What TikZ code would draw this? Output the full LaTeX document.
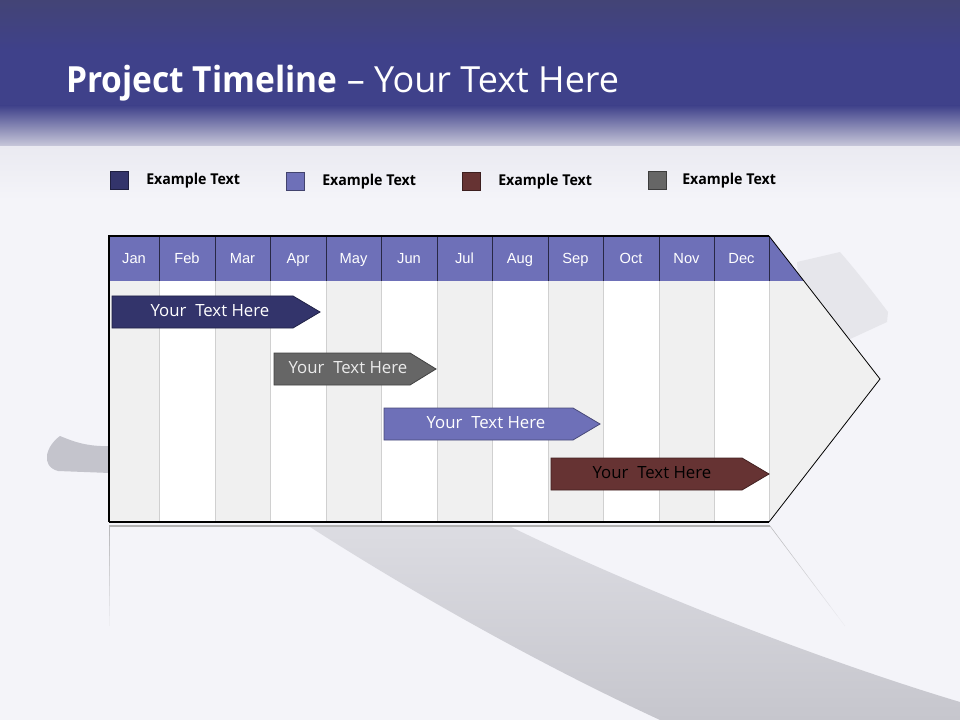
\documentclass[tikz,border=0pt]{standalone}
\usepackage{fontspec}
\setmainfont{Open Sans}
\newfontfamily\titlefont{Open Sans}[FakeStretch=0.93]
\newfontfamily\legfont{Open Sans}[FakeStretch=0.95]
\newfontfamily\arialf{Liberation Sans}
\definecolor{banner}{RGB}{63,65,138}
\definecolor{bannertop}{RGB}{67,68,118}
\definecolor{bannerfade}{RGB}{200,200,218}
\definecolor{bg}{RGB}{244,244,249}
\definecolor{bgtop}{RGB}{234,234,241}
\definecolor{navy}{RGB}{51,52,107}
\definecolor{lav}{RGB}{110,112,184}
\definecolor{maroon}{RGB}{102,51,51}
\definecolor{dgray}{RGB}{102,102,102}
\definecolor{colgray}{RGB}{240,240,240}
\definecolor{sepc}{RGB}{208,208,208}
\definecolor{hsep}{RGB}{40,40,70}
\definecolor{swlight}{RGB}{220,220,226}
\definecolor{swdark}{RGB}{198,198,205}
\definecolor{blobc}{RGB}{196,196,204}
\definecolor{patchc}{RGB}{230,230,235}
\begin{document}
\begin{tikzpicture}[x=0.75pt,y=-0.75pt,
  legsq/.style={draw=#1!60!black, fill=#1, minimum size=13.5pt, inner sep=0pt, line width=0.5pt},
  legtxt/.style={anchor=west, inner sep=0pt, font=\legfont\bfseries\fontsize{11.2}{12}\selectfont, text=black},
  month/.style={inner sep=0pt, text=white, text height=1.45ex, text depth=0.3ex, font=\arialf\fontsize{11}{13}\selectfont},
  bartxt/.style={inner sep=0pt, text height=1.45ex, text depth=0.3ex, font=\fontsize{12.6}{14}\selectfont},
  outline/.style={draw=black, line width=0.8pt}]
\useasboundingbox (0,0) rectangle (960,720);
% background
\fill[bg] (0,0) rectangle (960,720);
\shade[top color=bgtop, bottom color=bg] (0,146) rectangle (960,200);
% banner
\shade[top color=bannertop, bottom color=banner] (0,0) rectangle (960,50);
\fill[banner] (0,50) rectangle (960,106);
\shade[top color=banner, bottom color=bannerfade] (0,105.5) rectangle (960,146);
% title
\node[anchor=base west, inner sep=0pt, text=white, font=\fontsize{27}{30}\selectfont] (title) at (66,93)
  {{\titlefont\bfseries Project Timeline} – Your Text Here};
% legend
\node[legsq=navy] (sq1) at (119,180) {};
\node[legtxt] (lt1) at (146,181) {Example Text};
\node[legsq=lav] (sq2) at (295,181) {};
\node[legtxt] (lt2) at (322,182) {Example Text};
\node[legsq=maroon] (sq3) at (471,181) {};
\node[legtxt] (lt3) at (498,182) {Example Text};
\node[legsq=dgray] (sq4) at (657,180) {};
\node[legtxt] (lt4) at (682,181) {Example Text};
% background decorations
\shade[top color=swlight, bottom color=swdark]
  (307,525) .. controls (400,585) and (530,660) .. (660,720) -- (960,720) -- (960,702)
  .. controls (820,660) and (640,590) .. (507,525) -- cycle;
\fill[blobc] (110,446) .. controls (85,447) and (70,440) .. (60,436)
  .. controls (46,446) and (40,466) .. (58,471) -- (110,473) -- cycle;
\fill[patchc] (800,300) -- (797,262) -- (840,252) .. controls (860,275) and (875,295) .. (888,312)
  -- (887,322) -- (848,340) -- cycle;
% reflection
\foreach \k in {0,...,9}{
  \pgfmathsetmacro{\op}{0.5-0.05*\k}
  \draw[gray, opacity=\op, line width=0.4pt] (109,{526+10*\k}) -- (109,{536+10*\k});
  \draw[gray, opacity=\op, line width=0.4pt] ({770+7.5*\k},{526+10*\k}) -- ({777.5+7.5*\k},{536+10*\k});
}
\draw[gray!60, line width=0.9pt] (109,526) -- (770,526);
% chart columns
\foreach \a/\b/\m/\c [count=\i] in {109/159/Jan/colgray,159/215/Feb/white,215/270/Mar/colgray,
  270/326/Apr/white,326/381/May/colgray,381/437/Jun/white,437/492/Jul/colgray,492/548/Aug/white,
  548/603/Sep/colgray,603/659/Oct/white,659/714/Nov/colgray,714/769/Dec/white}{
  \fill[\c] (\a,281) rectangle (\b,522);
  \fill[lav] (\a,236) rectangle (\b,281);
  \node[month] (m\i) at ({(\a+\b)/2},259) {\m};
}
\fill[colgray] (769,236) -- (880,379) -- (769,522) -- cycle;
\fill[lav] (769,236) -- (804,281) -- (769,281) -- cycle;
\foreach \x in {159,215,270,326,381,437,492,548,603,659,714,769}{
  \draw[sepc, line width=0.6pt] (\x,281) -- (\x,522);
  \draw[hsep, line width=0.7pt] (\x,236) -- (\x,281);
}
\draw[outline] (769,236) -- (109,236) -- (109,522);
\draw[outline, line width=1.2pt] (109,522) -- (769,522);
\draw[draw=black, line width=0.6pt] (769,236) -- (880,379) -- (769,522);
% bars
\foreach \xa/\xb/\xt/\yc/\col/\tc/\tx [count=\i] in {
  112/293/320/312/navy/white/210, 274/410/436/369/dgray/white!92!black/348,
  384/573/600/424/lav/white/486, 551/742/769/474/maroon/black/652}{
  \fill[\col, draw=\col!65!black, line width=0.6pt] (\xa,\yc-16) -- (\xb,\yc-16) -- (\xt,\yc)
    -- (\xb,\yc+16) -- (\xa,\yc+16) -- cycle;
  \node[bartxt, text=\tc] (bar\i) at (\tx,\yc) {Your\ \ Text Here};
}
\end{tikzpicture}
\end{document}
